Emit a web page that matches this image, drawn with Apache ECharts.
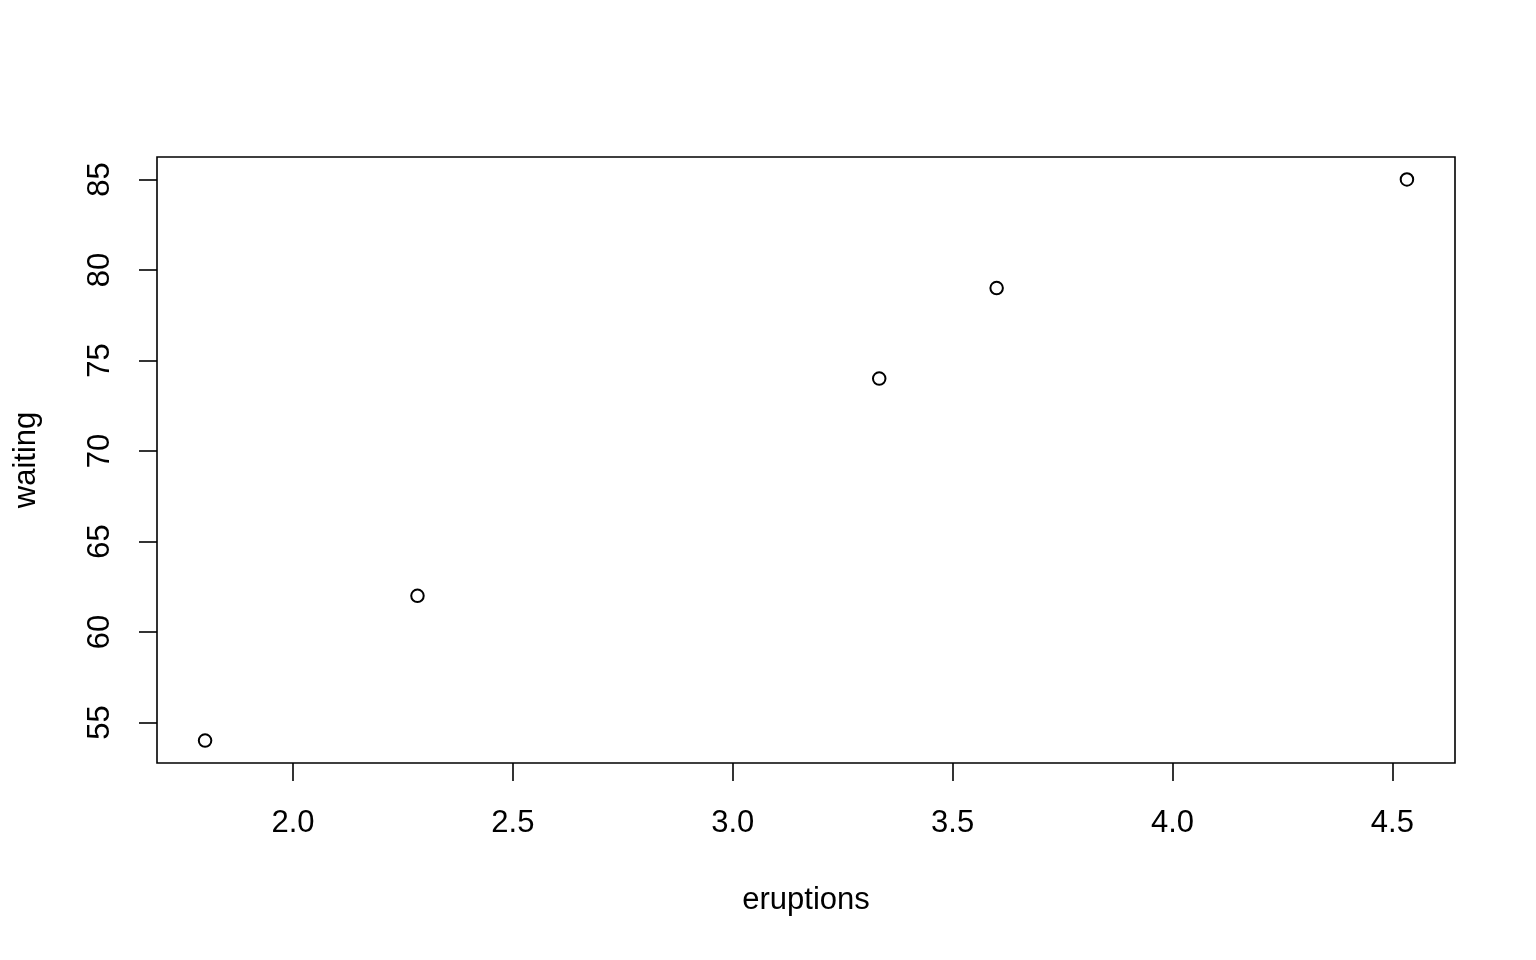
<!DOCTYPE html>
<html>
<head>
<meta charset="utf-8">
<script src="https://cdn.jsdelivr.net/npm/echarts@6/dist/echarts.min.js"></script>
<style>html,body{margin:0;padding:0;background:#fff}#c{width:1536px;height:960px}</style>
</head>
<body>
<div id="c"></div>
<script>
const eruptions = [3.600, 1.800, 3.333, 2.283, 4.533];
const waiting = [79, 54, 74, 62, 85];
const xTicks = [2.0, 2.5, 3.0, 3.5, 4.0, 4.5];
const yTicks = [55, 60, 65, 70, 75, 80, 85];

const points = eruptions.map((e, i) => [e, waiting[i]]);
const font = 'Liberation Sans, Arial, sans-serif';
const chart = echarts.init(document.getElementById('c'));
chart.setOption({
  animation: false,
  grid: {left: 157, right: 81, top: 157, bottom: 197, show: true, borderColor: '#000', borderWidth: 1.6, backgroundColor: 'transparent'},
  xAxis: {
    type: 'value', min: 1.6907, max: 4.6423,
    name: 'eruptions', nameLocation: 'middle', nameGap: 122,
    nameTextStyle: {color: '#000', fontSize: 31, fontFamily: font},
    axisLine: {show: false},
    splitLine: {show: false},
    axisTick: {show: true, length: 18, inside: false, customValues: xTicks, lineStyle: {color: '#000', width: 1.6}},
    axisLabel: {customValues: xTicks, color: '#000', fontSize: 31, fontFamily: font, margin: 45, formatter: v => v.toFixed(1)}
  },
  yAxis: {
    type: 'value', min: 52.76, max: 86.24,
    name: 'waiting', nameLocation: 'middle', nameGap: 115, nameRotate: 90,
    nameTextStyle: {color: '#000', fontSize: 31, fontFamily: font},
    axisLine: {show: false},
    splitLine: {show: false},
    axisTick: {show: true, length: 18, inside: false, customValues: yTicks, lineStyle: {color: '#000', width: 1.6}},
    axisLabel: {customValues: yTicks, rotate: 90, color: '#000', fontSize: 31, fontFamily: font, margin: 41, formatter: v => String(v)}
  },
  series: [{
    type: 'scatter', data: points, symbol: 'circle', symbolSize: 12.5,
    itemStyle: {color: '#fff', borderColor: '#000', borderWidth: 2, opacity: 1},
    emphasis: {disabled: true}
  }]
});
</script>
</body>
</html>
